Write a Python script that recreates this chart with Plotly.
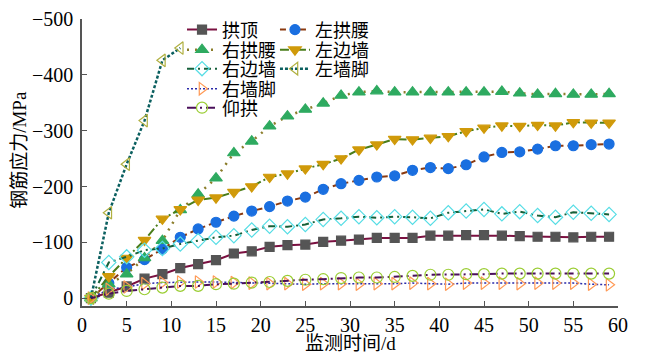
import plotly.graph_objects as go

days = [1, 3, 5, 7, 9, 11, 13, 15, 17, 19, 21, 23, 25, 27, 29,
        31, 33, 35, 37, 39, 41, 43, 45, 47, 49, 51, 53, 55, 57, 59]
days_lwf = [1, 3, 5, 7, 9, 11]

crown = [0, -10, -21, -35, -43, -54, -61, -68, -80, -84, -92, -95, -96, -101, -103,
         -105, -108, -108, -108, -112, -112, -113, -113, -112, -111, -110, -110, -109, -110, -110]
left_haunch = [0, -27, -55, -69, -88, -109, -124, -136, -147, -156, -164, -174, -181, -195, -205,
               -211, -217, -219, -229, -234, -232, -239, -253, -261, -262, -267, -273, -273, -275, -276]
right_haunch = [0, -25, -43, -72, -103, -158, -186, -215, -260, -281, -308, -326, -338, -349, -363,
                -369, -371, -369, -369, -369, -369, -369, -369, -370, -367, -365, -366, -365, -365, -366]
left_wall = [0, -39, -72, -104, -142, -159, -176, -180, -190, -200, -217, -223, -232, -240, -250,
             -266, -275, -285, -284, -287, -290, -299, -305, -309, -308, -310, -309, -315, -314, -314]
right_wall = [0, -64, -74, -86, -89, -97, -103, -109, -112, -122, -129, -128, -132, -141, -143,
              -146, -144, -146, -145, -143, -153, -156, -159, -151, -155, -148, -145, -154, -152, -150]
left_foot = [0, -153, -240, -318, -426, -448]
right_foot = [0, -16, -20, -26, -28, -29, -29, -29, -28, -27, -26, -26, -25, -26, -26,
              -25, -26, -26, -27, -26, -25, -27, -27, -27, -26, -27, -27, -27, -25, -24]
invert = [0, -8, -13, -16, -19, -22, -22, -25, -26, -28, -29, -31, -33, -34, -36,
          -37, -37, -38, -40, -42, -42, -43, -43, -44, -44, -44, -44, -44, -44, -44]

x_ticks = [0, 5, 10, 15, 20, 25, 30, 35, 40, 45, 50, 55, 60]
y_ticks = [-500, -400, -300, -200, -100, 0]

series = [
    # name, x, y, line color, dash, width, symbol, marker color, size, legend
    ("拱顶", days, crown, "#7a1040", "solid", 2, "square", "#555555", 9, "legend"),
    ("左拱腰", days, left_haunch, "#8b3a0f", "6px,4px", 2, "circle", "#1a6fe0", 10, "legend2"),
    ("右拱腰", days, right_haunch, "#8b7d2a", "2px,6px", 2.5, "triangle-up", "#2eaa60", 11, "legend3"),
    ("左边墙", days, left_wall, "#4a7d1a", "9px,3px,2px,3px", 2, "triangle-down", "#d09a0a", 11, "legend4"),
    ("右边墙", days, right_wall, "#15603a", "7px,4px,2px,4px", 2, "diamond-open", "#55dde5", 11, "legend5"),
    ("左墙脚", days_lwf, left_foot, "#0a5f5f", "3px,2px", 2.5, "triangle-left-open", "#b0b040", 11, "legend6"),
    ("右墙脚", days, right_foot, "#2a2aaa", "2px,2px", 1.5, "triangle-right-open", "#ff9955", 11, "legend7"),
    ("仰拱", days, invert, "#4a0f5a", "9px,4px,2px,4px", 2, "circle-open", "#9acd32", 11, "legend8"),
]

fig = go.Figure()
for name, xs, ys, lc, dash, lw, sym, mc, ms, lg in series:
    fig.add_trace(go.Scatter(
        x=xs, y=ys, name=name, mode="lines+markers",
        line=dict(color=lc, dash=dash, width=lw),
        marker=dict(symbol=sym, color=mc, size=ms, line=dict(color=mc, width=1.2)),
        legend=lg,
    ))

leg_font = dict(family="Noto Sans CJK SC", size=18, color="black")
col1, col2 = 0.1866, 0.360
rows = [0.962, 0.892, 0.826, 0.756, 0.690]
pos = {
    "legend": (col1, rows[0]), "legend2": (col2, rows[0]),
    "legend3": (col1, rows[1]), "legend4": (col2, rows[1]),
    "legend5": (col1, rows[2]), "legend6": (col2, rows[2]),
    "legend7": (col1, rows[3]), "legend8": (col1, rows[4]),
}
legends = {}
for key, (lx, ly) in pos.items():
    legends[key] = dict(x=lx, y=ly, xanchor="left", yanchor="middle",
                        bgcolor="rgba(0,0,0,0)", borderwidth=0, font=leg_font)

tick_font = dict(family="Liberation Serif", size=20, color="black")
# the page body adds an 8px offset, so the figure is sized 8px smaller
fig.update_layout(
    width=643, height=355,
    margin=dict(l=74, r=33, t=11, b=57, autoexpand=False),
    paper_bgcolor="white", plot_bgcolor="white",
    showlegend=True,
    **legends,
    xaxis=dict(range=[0, 60], tickvals=x_ticks, ticks="inside", ticklen=5,
               tickcolor="#555555", showline=True, linecolor="#555555", linewidth=1.5,
               showgrid=False, zeroline=False, tickfont=tick_font, automargin=False),
    yaxis=dict(range=[14, -500], tickvals=y_ticks, ticks="inside", ticklen=5,
               tickcolor="#555555", showline=True, linecolor="#555555", linewidth=1.5,
               showgrid=False, zeroline=False, tickfont=tick_font, ticklabelstandoff=3,
               automargin=False),
    annotations=[
        dict(text="监测时间/d", xref="paper", yref="paper", x=0.5, y=-0.132,
             showarrow=False, xanchor="center", yanchor="middle",
             font=dict(family="Liberation Serif, Noto Sans CJK SC", size=19, color="black")),
        dict(text="钢筋应力/MPa", xref="paper", yref="paper", x=-0.1157, y=0.544,
             showarrow=False, textangle=-90, xanchor="center", yanchor="middle",
             font=dict(family="Liberation Serif, Noto Sans CJK SC", size=19, color="black")),
    ],
)

fig.write_html("out.html")
